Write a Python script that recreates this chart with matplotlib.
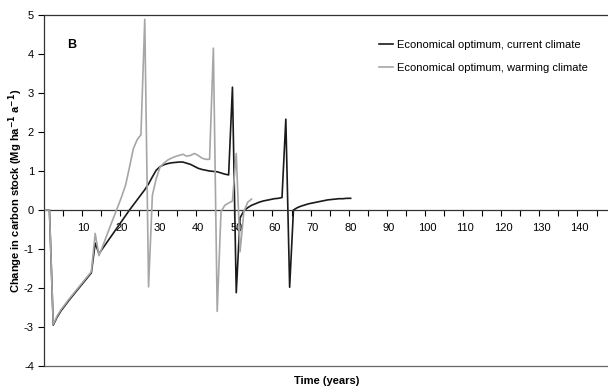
import matplotlib
matplotlib.use("Agg")
import matplotlib.pyplot as plt
import numpy as np

plt.rcParams['font.family'] = ['Liberation Sans', 'DejaVu Sans']
plt.rcParams['axes.unicode_minus'] = False

# Carbon stock change per year (Mg ha-1 a-1)
years_current = list(range(0, 81))
current = [
    0, 0, -2.95, -2.75, -2.59, -2.46, -2.33, -2.21, -2.09, -1.97,
    -1.85, -1.73, -1.61, -0.85, -1.12, -0.98, -0.84, -0.70, -0.56, -0.42,
    -0.28, -0.14, 0.0, 0.13, 0.26, 0.39, 0.52, 0.67, 0.85, 1.02,
    1.11, 1.16, 1.19, 1.21, 1.22, 1.23, 1.23, 1.20, 1.17, 1.12,
    1.07, 1.04, 1.02, 1.00, 0.99, 0.98, 0.95, 0.92, 0.90, 3.15,
    -2.12, -0.20, -0.02, 0.06, 0.12, 0.16, 0.20, 0.23, 0.25, 0.27,
    0.29, 0.30, 0.32, 2.33, -1.98, 0.0, 0.06, 0.10, 0.13, 0.16,
    0.18, 0.20, 0.22, 0.24, 0.26, 0.27, 0.28, 0.29, 0.29, 0.30,
    0.30,
]

years_warming = list(range(0, 55))
warming = [
    0, 0, -2.93, -2.72, -2.56, -2.43, -2.30, -2.18, -2.06, -1.94,
    -1.82, -1.70, -1.58, -0.60, -1.17, -0.92, -0.66, -0.40, -0.15, 0.10,
    0.36, 0.65, 1.10, 1.57, 1.80, 1.93, 4.89, -1.97, 0.38, 0.80,
    1.10, 1.20, 1.28, 1.33, 1.37, 1.40, 1.43, 1.38, 1.40, 1.45,
    1.40, 1.33, 1.30, 1.30, 4.15, -2.60, -0.04, 0.12, 0.18, 0.23,
    1.45, -1.07, -0.04, 0.20, 0.28,
]

n_categories = 148
label_years = list(range(10, 141, 10))
tick_years = list(range(5, 146, 5))

fig = plt.figure(figsize=(6.08, 3.90), dpi=100)
ax = fig.add_axes([0.0719, 0.0615, 0.9281, 0.90])

# category axis: each year sits in the middle of its slot
ax.plot(np.array(years_current) + 0.5, current, color='#1a1a1a', lw=1.2,
        label='Economical optimum, current climate', zorder=2)
ax.plot(np.array(years_warming) + 0.5, warming, color='#a6a6a6', lw=1.2,
        label='Economical optimum, warming climate', zorder=3)

ax.set_xlim(0, n_categories)
ax.set_ylim(-4, 5)
ax.set_yticks(range(-4, 6))
ax.tick_params(axis='y', direction='out', length=4, width=0.8, labelsize=8, pad=3)

ax.set_xticks(tick_years)
ax.set_xticklabels([])
ax.set_xticks(np.array(label_years) + 0.5, minor=True)
ax.set_xticklabels([str(v) for v in label_years], minor=True)
ax.tick_params(axis='x', which='major', direction='out', length=4, width=0.8)
ax.tick_params(axis='x', which='minor', length=0, labelsize=8, pad=9)

ax.spines['bottom'].set_position(('data', 0))
ax.spines['right'].set_visible(False)
for s in ['bottom', 'left', 'top']:
    ax.spines[s].set_linewidth(0.9)
    ax.spines[s].set_color('#333333')
ax.plot([0, 1], [0, 0], transform=ax.transAxes, color='#666666', lw=0.9, clip_on=False)

ax.text(0.042, 0.915, 'B', transform=ax.transAxes, fontsize=9, fontweight='bold',
        va='center', ha='left')

ax.legend(loc='upper left', bbox_to_anchor=(0.594, 0.928),
          frameon=False, fontsize=8, handlelength=1.3, handletextpad=0.3,
          labelspacing=1.15, borderpad=0, borderaxespad=0)

fig.text(0.537, 0.022, 'Time (years)', ha='center', va='center', fontsize=8, fontweight='bold')
fig.text(0.026, 0.51, 'Change in carbon stock (Mg ha$^{\\mathbf{-1}}$ a$^{\\mathbf{-1}}$)',
         rotation=90, ha='center', va='center', fontsize=8, fontweight='bold')

fig.savefig('out.png', dpi=100)
